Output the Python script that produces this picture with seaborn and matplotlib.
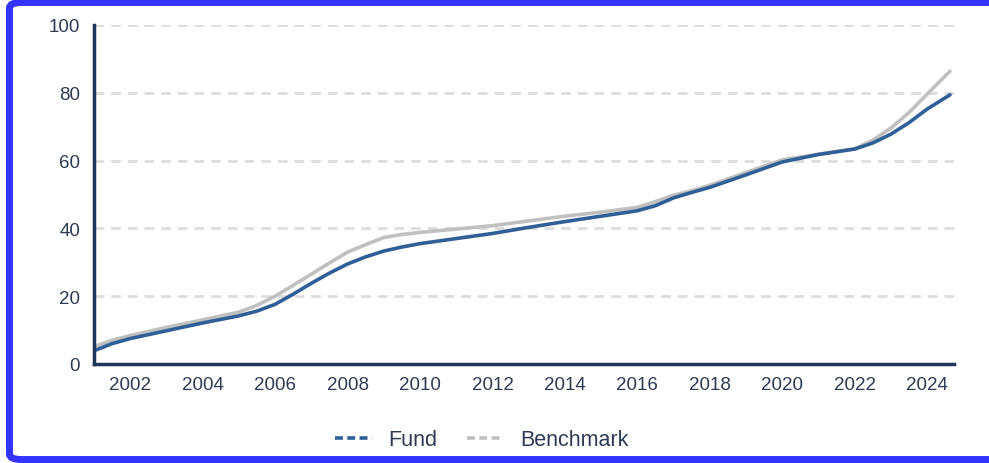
import pandas as pd
import numpy as np
import matplotlib.pyplot as plt
import seaborn as sns
from matplotlib.patches import FancyBboxPatch
from matplotlib.lines import Line2D

# data
years = [2001.05, 2001.5, 2002, 2003, 2004, 2005, 2005.5, 2006, 2006.5, 2007, 2007.5,
         2008, 2008.5, 2009, 2009.5, 2010, 2011, 2012, 2013, 2014, 2015,
         2016, 2016.5, 2017, 2017.5, 2018, 2019, 2020, 2021, 2022, 2022.5,
         2023, 2023.5, 2024, 2024.63]
fund = [4.1, 6.0, 7.5, 9.8, 12.1, 14.2, 15.6, 17.6, 20.6, 23.8, 26.8,
        29.5, 31.6, 33.3, 34.5, 35.5, 37.0, 38.5, 40.3, 42.0, 43.6,
        45.2, 46.7, 49.0, 50.6, 52.1, 55.8, 59.6, 61.8, 63.4, 65.2,
        67.8, 71.2, 75.2, 79.4]
benchmark = [5.3, 7.0, 8.4, 10.8, 13.0, 15.3, 17.3, 20.0, 23.2, 26.5, 29.8,
             33.0, 35.2, 37.3, 38.2, 38.8, 39.8, 40.8, 42.2, 43.6, 44.8,
             46.2, 47.9, 49.8, 51.1, 52.7, 56.5, 60.2, 61.9, 63.5, 66.0,
             69.6, 74.2, 79.6, 86.4]
series_names = ["Fund", "Benchmark"]
xticks = [2002, 2004, 2006, 2008, 2010, 2012, 2014, 2016, 2018, 2020, 2022, 2024]
yticks = [0, 20, 40, 60, 80, 100]

df = pd.DataFrame({
    "year": years * 2,
    "value": fund + benchmark,
    "series": ["Fund"] * len(years) + ["Benchmark"] * len(years),
})

sns.set_style("white")
plt.rcParams["font.family"] = ["Liberation Sans", "DejaVu Sans"]
text_col = "#2f3b55"
spine_col = "#1f3557"
palette = {"Fund": "#305f98", "Benchmark": "#c0c0c0"}

fig = plt.figure(figsize=(9.89, 4.64), dpi=100)
ax = fig.add_axes([0.095, 0.2134, 0.8696, 0.7306])

# benchmark first so fund sits on top
sns.lineplot(data=df, x="year", y="value", hue="series", hue_order=["Benchmark", "Fund"],
             palette=palette, linewidth=2.6, ax=ax, legend=False)

ax.set_xlim(2001.0, 2024.74)
ax.set_ylim(0, 100)
ax.set_xticks(xticks)
ax.set_yticks(yticks)
ax.set_xlabel("")
ax.set_ylabel("")

for y in yticks[1:]:
    ax.axhline(y, color="#dddddd", lw=2, ls=(0, (3.5, 2.5)), zorder=0)

for s in ["top", "right"]:
    ax.spines[s].set_visible(False)
for s in ["left", "bottom"]:
    ax.spines[s].set_color(spine_col)
    ax.spines[s].set_linewidth(2.5)

ax.tick_params(axis="y", length=7, width=1.2, color="#333333", labelsize=13.5, labelcolor=text_col, pad=3)
ax.tick_params(axis="x", length=3, width=1, color="#333333", labelsize=13.5, labelcolor=text_col, pad=6)

handles = [Line2D([], [], color=palette[n], lw=2.6, ls=(0, (2.2, 1.2))) for n in series_names]
fig.legend(handles, series_names, loc="center", bbox_to_anchor=(0.487, 0.05), ncol=2,
           frameon=False, fontsize=15.5, labelcolor=text_col, handlelength=1.7,
           columnspacing=1.4, handletextpad=0.75)

# blue frame on left, top and bottom
frame = FancyBboxPatch((0.0096, 0.0075), 1.05, 0.985, boxstyle="round,pad=0,rounding_size=0.012",
                       transform=fig.transFigure, facecolor="none", edgecolor="#3333ff",
                       linewidth=5.0, clip_on=False)
fig.patches.append(frame)

fig.savefig("out.png", dpi=100)
